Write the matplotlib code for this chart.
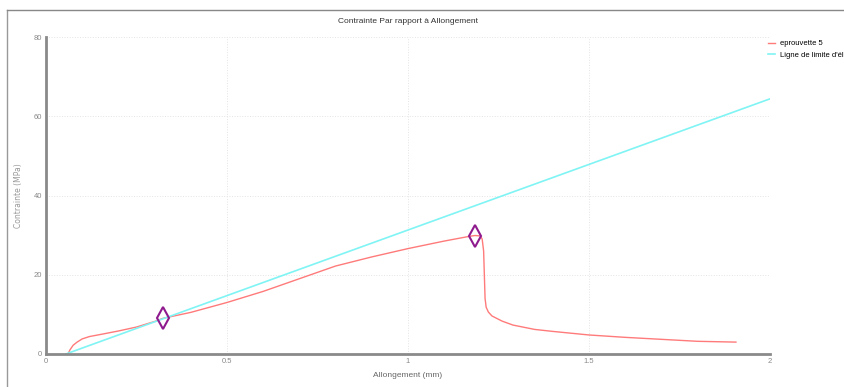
import numpy as np
import matplotlib.pyplot as plt
from matplotlib.lines import Line2D

plt.rcParams['font.family'] = ['Liberation Sans', 'DejaVu Sans']

# courbe contrainte / allongement de l'eprouvette 5
allong = [0.061, 0.066, 0.075, 0.086, 0.10, 0.12, 0.149, 0.20, 0.25, 0.30,
          0.323, 0.40, 0.50, 0.60, 0.70, 0.80, 0.90, 1.00, 1.10, 1.17,
          1.185, 1.20, 1.205, 1.209, 1.211, 1.213, 1.216, 1.222, 1.232, 1.26,
          1.29, 1.35, 1.40, 1.50, 1.60, 1.70, 1.80, 1.906]
contrainte = [0.0, 1.0, 2.2, 3.0, 3.8, 4.4, 4.9, 5.8, 6.8, 8.2,
              9.0, 10.5, 13.0, 15.8, 19.0, 22.2, 24.5, 26.6, 28.5, 29.7,
              29.9, 29.8, 29.0, 26.0, 20.0, 14.0, 11.8, 10.6, 9.6, 8.3,
              7.3, 6.2, 5.7, 4.8, 4.2, 3.7, 3.2, 3.0]

# ligne de limite d'elasticite
lim_x = [0.055, 2.0]
lim_y = [0.0, 64.4]

# points remarquables (limite elastique, rupture)
pts_x = [0.323, 1.185]
pts_y = [9.0, 29.9]

fig = plt.figure(figsize=(8.45, 3.87), dpi=100)
ax = fig.add_axes([0.0544, 0.0853, 0.8568, 0.819])

ax.plot(allong, contrainte, color='#ff7a7a', lw=1.0, label='eprouvette 5')
ax.plot(lim_x, lim_y, color='#80f4f4', lw=1.2, label="Ligne de limite d'élasticité")
ax.plot(pts_x, pts_y, 'd', ms=11, mfc='none', mec='#8e1a8e', mew=1.5)

ax.set_xlim(0, 2)
ax.set_ylim(0, 80)
ax.set_xticks([0, 0.5, 1, 1.5, 2])
ax.set_xticklabels(['0', '0.5', '1', '1.5', '2'])
ax.set_yticks([0, 20, 40, 60, 80])
ax.tick_params(length=0, labelsize=5.5, labelcolor='#888888', pad=3)
ax.grid(True, color='#e4e4e4', ls=':', lw=0.7)
for s in ['top', 'right']:
    ax.spines[s].set_visible(False)
for s in ['left', 'bottom']:
    ax.spines[s].set_color('#8a8a8a')
    ax.spines[s].set_linewidth(2)

ax.set_xlabel('Allongement (mm)', fontsize=6, color='#666666', labelpad=5)
ax.set_ylabel('Contrainte (MPa)', fontsize=5.5, color='#999999',
              family='DejaVu Sans')
ax.yaxis.set_label_coords(-0.032, 0.5)
ax.set_title('Contrainte Par rapport à Allongement', fontsize=6, color='#333333',
             pad=10)

ax.legend(loc='upper left', bbox_to_anchor=(0.985, 1.02), frameon=False,
          fontsize=5.5, handlelength=0.9, handletextpad=0.6, labelspacing=0.6,
          borderaxespad=0.8)

# cadre de la figure
fig.add_artist(Line2D([0.008, 0.008], [0.0, 0.974], color='#999999', lw=1.0))
fig.add_artist(Line2D([0.008, 1.0], [0.974, 0.974], color='#888888', lw=1.0))

fig.savefig('out.png', dpi=100)
